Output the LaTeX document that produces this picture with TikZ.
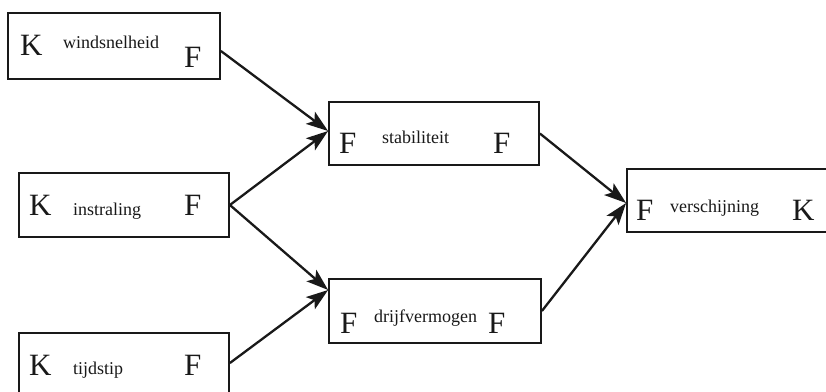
\documentclass[tikz,border=0pt]{standalone}
\usepackage{fontspec}
\setmainfont{Liberation Serif}
\usetikzlibrary{arrows.meta}
\begin{document}
\begin{tikzpicture}[x=1pt,y=-1pt,
  box/.style={draw=black!90, line width=1.8pt, inner sep=0pt},
  big/.style={font=\fontsize{31}{31}\selectfont, inner sep=0pt, anchor=base west, text=black!90},
  small/.style={font=\fontsize{18}{18}\selectfont, inner sep=0pt, anchor=base west, text=black!90},
  link/.style={draw=black!90, line width=2.3pt, -{Stealth[length=22pt,width=15pt,inset=5pt]}}]
\clip (0,0) rectangle (826,391);
\fill[white] (0,0) rectangle (826,391);
% boxes
\node[box, minimum width=212pt, minimum height=66pt] (ws) at (114,46) {};
\node[box, minimum width=210pt, minimum height=64pt] (in) at (124,205) {};
\node[box, minimum width=210pt, minimum height=64pt] (tj) at (124,365) {};
\node[box, minimum width=210pt, minimum height=63pt] (st) at (434,133.5) {};
\node[box, minimum width=212pt, minimum height=64pt] (dr) at (435,311) {};
\node[box, minimum width=205pt, minimum height=63pt] (ve) at (729.5,200.5) {};
% texts
\node[big] (wsK) at (20,55) {K};
\node[small] (wsT) at (63,48) {windsnelheid};
\node[big] (wsF) at (184,67) {F};
\node[big] (inK) at (29,215) {K};
\node[small] (inT) at (73,215) {instraling};
\node[big] (inF) at (184,215) {F};
\node[big] (tjK) at (29,375) {K};
\node[small] (tjT) at (73,374) {tijdstip};
\node[big] (tjF) at (184,375) {F};
\node[big] (stF1) at (339,153) {F};
\node[small] (stT) at (382,143) {stabiliteit};
\node[big] (stF2) at (493,153) {F};
\node[big] (drF1) at (340,333) {F};
\node[small] (drT) at (374,322) {drijfvermogen};
\node[big] (drF2) at (488,333) {F};
\node[big] (veF) at (636,220) {F};
\node[small] (veT) at (670,212) {verschijning};
\node[big] (veK) at (792,220) {K};
% connectors
\draw[link] ([yshift=-5pt]ws.east) -- ([yshift=2.5pt]st.west);
\draw[link] (in.east) -- ([yshift=2.5pt]st.west);
\draw[link] (in.east) -- ([yshift=21pt]dr.west);
\draw[link] ([yshift=2pt]tj.east) -- ([yshift=21pt]dr.west);
\draw[link] (st.east) -- ([yshift=-2.5pt]ve.west);
\draw[link] (dr.east) -- ([yshift=-2.5pt]ve.west);
\end{tikzpicture}
\end{document}
